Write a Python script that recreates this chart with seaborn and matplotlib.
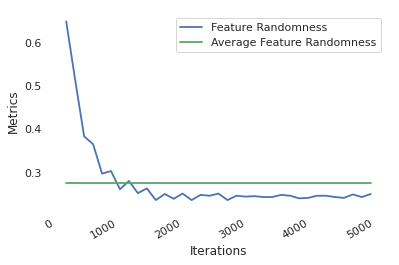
import numpy as np
import pandas as pd
import matplotlib
matplotlib.use("Agg")
import matplotlib.pyplot as plt
import seaborn as sns

iterations = [190, 330, 470, 610, 750, 890, 1030, 1170, 1310, 1450,
              1590, 1730, 1870, 2010, 2150, 2290, 2430, 2570, 2710, 2850,
              2990, 3130, 3270, 3410, 3550, 3690, 3830, 3970, 4110, 4250,
              4390, 4530, 4670, 4810, 4950]
feature_randomness = [0.649, 0.514, 0.384, 0.366, 0.298, 0.304, 0.262, 0.281, 0.253, 0.264,
                      0.237, 0.251, 0.240, 0.252, 0.237, 0.249, 0.247, 0.252, 0.237, 0.247,
                      0.245, 0.246, 0.244, 0.244, 0.249, 0.247, 0.241, 0.242, 0.247, 0.247,
                      0.244, 0.242, 0.250, 0.244, 0.251]
average_value = 0.2775
average_randomness = [average_value] * len(iterations)

series_labels = ["Feature Randomness", "Average Feature Randomness"]
x_label = "Iterations"
y_label = "Metrics"

sns.set_theme(context="notebook", style="white")
plt.rcParams['font.family'] = ['DejaVu Sans']

fig = plt.figure(figsize=(399 / 72, 265 / 72), dpi=72)
ax = fig.add_axes([51 / 399, 1 - 209 / 265, (386 - 51) / 399, (209 - 12.6) / 265])

df = pd.DataFrame({"x": iterations, "fr": feature_randomness, "avg": average_randomness})
sns.lineplot(data=df, x="x", y="fr", ax=ax, color="#4C72B0", label=series_labels[0], linewidth=1.8)
sns.lineplot(data=df, x="x", y="avg", ax=ax, color="#55A868", label=series_labels[1], linewidth=1.8)

ax.set_xlabel(x_label, color=".15")
ax.set_ylabel(y_label, color=".15")
sns.despine(ax=ax, left=True, bottom=True)
ax.tick_params(length=0, pad=9.5)
for lab in ax.get_xticklabels():
    lab.set_rotation(30)
    lab.set_ha("right")

leg = ax.legend(loc="upper right", frameon=True)
leg.get_frame().set_edgecolor("0.8")

fig.savefig("out.png", dpi=72)
